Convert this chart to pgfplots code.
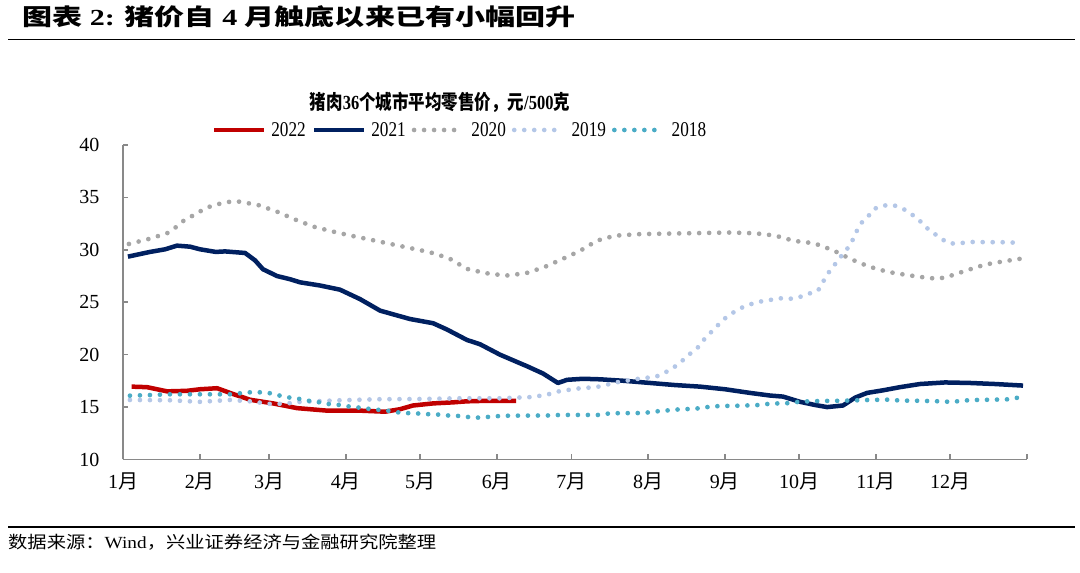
\documentclass[border=0pt]{standalone}
\usepackage{fontspec}
\setmainfont{Liberation Serif}
\newfontfamily\cjk{Noto Sans CJK SC}
\usepackage{graphicx}
\usepackage{pgfplots}
\pgfplotsset{compat=1.18}
\definecolor{c22}{HTML}{C00000}
\definecolor{c21}{HTML}{002060}
\definecolor{c20}{HTML}{A6A6A6}
\definecolor{c19}{HTML}{B4C7E7}
\definecolor{c18}{HTML}{4BACC6}
\definecolor{axgray}{HTML}{898989}
\newcommand\yue{{\cjk 月}}
\newcommand\lgd[1]{\scalebox{0.82}[1]{#1}}
\begin{document}
\begin{tikzpicture}
\path[use as bounding box] (0,0) rectangle (1080pt,573pt);
\draw[line width=1.8pt] (8pt,533.5pt) -- (1075pt,533.5pt);
\draw[line width=1.8pt] (8pt,46pt) -- (1075pt,46pt);
\node[anchor=west,inner sep=0pt] at (22pt,556pt) {\resizebox{553pt}{\height}{\fontsize{23pt}{26pt}\selectfont\bfseries {\cjk 图表} 2: {\cjk 猪价自} 4 {\cjk 月触底以来已有小幅回升}}};
\node[anchor=west,inner sep=0pt] at (8pt,31pt) {\resizebox{428pt}{\height}{\fontsize{17pt}{20pt}\selectfont {\cjk 数据来源：}Wind{\cjk ，兴业证券经济与金融研究院整理}}};
\node[inner sep=0pt] at (440pt,471pt) {\resizebox{260pt}{\height}{\fontsize{20pt}{23pt}\selectfont\bfseries {\cjk 猪肉}36{\cjk 个城市平均零售价，元}/500{\cjk 克}}};
\begin{axis}[
  at={(123pt,113.5pt)}, anchor=south west, scale only axis,
  width=904pt, height=314.5pt,
  xmin=0, xmax=365, ymin=10, ymax=40,
  axis x line=bottom, axis y line=left,
  axis line style={-, draw=axgray, line width=1.5pt},
  xtick={0,31,59,90,120,151,181,212,243,273,304,334,365},
  xticklabels={1\yue,2\yue,3\yue,4\yue,5\yue,6\yue,7\yue,8\yue,9\yue,10\yue,11\yue,12\yue,{}},
  ytick={10,15,20,25,30,35,40},
  tick align=inside, major tick length=5pt,
  tick style={draw=axgray, line width=1.5pt},
  /pgf/number format/assume math mode=true,
  ticklabel style={font=\fontsize{20pt}{24pt}\selectfont},
  yticklabel style={xshift=-20pt},
  xticklabel style={yshift=-10pt},
  legend columns=5,
  legend style={at={(0.3728,1.0477)}, anchor=center, draw=none, fill=none,
    font=\fontsize{21pt}{24pt}\selectfont,
    nodes={inner xsep=2pt},
    /tikz/every odd column/.append style={column sep=3pt},
    /tikz/every even column/.append style={column sep=4pt}},
  legend image code/.code={\draw[#1] (0pt,0pt) -- (50pt,0pt);},
]
\addplot[c22, line width=4.5pt, line join=round] coordinates {
(3.5,16.95)(9.7,16.9)(17.8,16.5)(25.8,16.55)(31.1,16.7)(38.0,16.8)(44.4,16.25)(51.3,15.7)(60.6,15.35)(70.3,14.9)(82.4,14.66)(95.7,14.66)(105.8,14.56)(111.9,14.8)(117.1,15.15)(125.2,15.35)(133.2,15.45)(138.9,15.55)(147.0,15.6)(158.7,15.6)
};
\addlegendentry{\lgd{2022}}
\addplot[c21, line width=4.5pt, line join=round] coordinates {
(2.0,29.35)(10.9,29.8)(17.0,30.05)(21.8,30.4)(27.1,30.3)(31.1,30.05)(37.5,29.8)(41.2,29.85)(49.3,29.7)(53.3,29.0)(56.5,28.15)(62.2,27.5)(67.4,27.2)(71.5,26.9)(79.5,26.6)(87.6,26.2)(95.7,25.3)(103.8,24.2)(109.8,23.8)(115.9,23.4)(125.2,23.0)(130.8,22.4)(138.9,21.4)(144.1,21.0)(152.2,20.0)(159.1,19.3)(163.1,18.9)(169.6,18.2)(175.6,17.3)(179.3,17.6)(185.7,17.7)(192.6,17.65)(202.7,17.5)(212.8,17.3)(222.9,17.1)(233.0,16.95)(243.1,16.7)(253.2,16.35)(261.3,16.1)(266.5,16.0)(273.4,15.5)(279.4,15.2)(284.3,15.0)(290.7,15.15)(295.6,15.9)(300.4,16.35)(306.9,16.6)(313.7,16.9)(321.8,17.2)(331.9,17.35)(342.0,17.3)(352.1,17.2)(363.4,17.05)
};
\addlegendentry{\lgd{2021}}
\addplot[c20, line width=4.7pt, line cap=round, dash pattern=on 0pt off 10pt] coordinates {
(2.4,30.56)(10.5,31.04)(17.8,31.58)(21.3,32.15)(24.6,32.8)(28.0,33.24)(31.4,33.7)(34.8,34.1)(38.8,34.38)(42.7,34.57)(46.8,34.6)(54.5,34.28)(62.1,33.65)(69.4,32.9)(77.1,32.2)(84.8,31.74)(92.5,31.33)(100.5,30.94)(108.6,30.53)(116.3,30.15)(123.9,29.77)(131.6,29.2)(138.9,28.18)(146.6,27.77)(154.6,27.54)(162.7,27.77)(170.0,28.34)(177.2,29.1)(184.5,29.9)(191.4,30.88)(198.6,31.35)(208.7,31.5)(220.9,31.55)(233.0,31.6)(245.1,31.65)(255.2,31.58)(263.3,31.36)(271.0,30.85)(279.0,30.63)(286.7,29.96)(294.0,29.1)(301.2,28.4)(308.9,27.89)(317.0,27.58)(325.0,27.32)(329.1,27.25)(332.7,27.41)(340.4,28.02)(348.0,28.59)(355.7,28.91)(363.8,29.2)
};
\addlegendentry{\lgd{2020}}
\addplot[c19, line width=4.7pt, line cap=round, dash pattern=on 0pt off 10pt] coordinates {
(2.8,15.68)(19.0,15.65)(31.1,15.5)(43.2,15.68)(51.3,15.55)(59.4,15.3)(65.4,15.32)(71.5,15.5)(87.6,15.65)(103.8,15.75)(119.9,15.77)(136.1,15.84)(152.2,15.84)(164.3,15.95)(170.8,16.15)(175.2,16.47)(183.3,16.76)(191.4,16.92)(199.5,17.37)(207.5,17.68)(215.2,17.9)(218.8,18.28)(222.5,18.8)(225.7,19.4)(228.5,20.0)(231.8,20.6)(234.2,21.34)(237.0,22.04)(239.9,22.74)(242.7,23.4)(245.9,23.95)(249.6,24.46)(253.2,24.8)(257.2,25.06)(261.3,25.22)(265.3,25.38)(268.9,25.31)(273.0,25.48)(276.6,25.79)(280.6,26.1)(282.7,26.97)(284.7,27.77)(287.1,28.5)(289.5,29.26)(292.3,30.06)(294.3,30.78)(296.0,31.68)(298.0,32.54)(300.8,33.17)(303.2,33.9)(306.9,34.22)(310.9,34.28)(314.9,33.93)(318.2,33.43)(321.4,32.85)(324.2,32.15)(327.4,31.58)(330.7,31.0)(333.9,30.6)(337.9,30.63)(342.0,30.75)(350.1,30.73)(358.1,30.72)(362.2,30.63)
};
\addlegendentry{\lgd{2019}}
\addplot[c18, line width=4.7pt, line cap=round, dash pattern=on 0pt off 10pt] coordinates {
(2.8,16.09)(10.9,16.15)(19.0,16.22)(43.2,16.22)(51.3,16.41)(55.3,16.41)(59.4,16.32)(63.4,16.09)(67.4,15.9)(71.5,15.77)(75.5,15.58)(79.5,15.45)(83.6,15.27)(87.6,15.2)(91.7,15.04)(95.7,14.94)(99.7,14.82)(103.8,14.72)(107.8,14.63)(111.8,14.47)(115.9,14.41)(119.9,14.38)(124.0,14.31)(128.0,14.28)(132.0,14.18)(136.1,14.15)(140.1,14.03)(144.1,13.99)(148.2,14.08)(152.2,14.15)(156.3,14.18)(172.4,14.2)(176.4,14.25)(192.6,14.25)(196.6,14.41)(208.7,14.43)(212.8,14.5)(216.8,14.63)(220.9,14.7)(224.9,14.79)(228.9,14.82)(233.0,14.89)(237.0,15.04)(241.0,15.1)(249.1,15.13)(257.2,15.2)(261.3,15.33)(269.3,15.38)(273.3,15.52)(281.4,15.58)(289.5,15.6)(301.6,15.68)(309.7,15.71)(313.7,15.62)(321.8,15.6)(329.9,15.55)(333.9,15.5)(337.9,15.57)(342.0,15.67)(350.1,15.7)(357.3,15.74)(361.4,15.9)
};
\addlegendentry{\lgd{2018}}
\end{axis}
\end{tikzpicture}
\end{document}
